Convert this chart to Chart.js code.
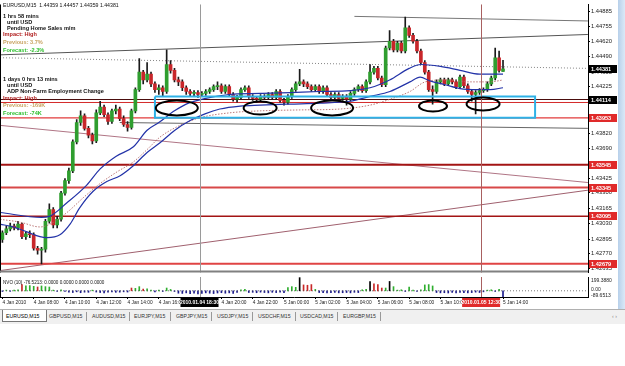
<!DOCTYPE html>
<html><head><meta charset="utf-8">
<script src="https://cdn.jsdelivr.net/npm/chart.js@4.4.1/dist/chart.umd.min.js"></script>
<style>
html,body{margin:0;padding:0;background:#fff;width:625px;height:366px;overflow:hidden;font-family:"Liberation Sans",Arial,sans-serif;}
#main{position:absolute;left:0;top:0;}
#ind{position:absolute;left:0;top:276px;}
.t{position:absolute;white-space:nowrap;font-size:5.6px;line-height:6px;font-weight:bold;color:#111;}
.n{font-weight:normal;font-size:5.2px;}
#strip{position:absolute;left:618px;top:0;width:7px;height:310px;background:linear-gradient(to right,#b7d0ea,#dbe9f7);}
#tabs{position:absolute;left:0;top:309px;width:625px;height:14px;background:#f0f0f0;border-top:1px solid #b0b0b0;font-size:5.2px;color:#333;}
.tab{position:absolute;top:3px;white-space:nowrap;}
.sep{position:absolute;top:2px;width:1px;height:9px;background:#999;}
#seltab{position:absolute;left:2px;top:0px;width:43px;height:11px;background:#fff;border:1px solid #777;border-top:none;}
</style></head>
<body>
<canvas id="main" width="618" height="277"></canvas>
<canvas id="ind" width="618" height="34"></canvas>
<div id="strip"></div>

<div class="t n" style="left:3px;top:2px;">EURUSD,M15&nbsp; 1.44359 1.44457 1.44359 1.44381</div>
<div class="t" style="left:3px;top:13px;">1 hrs 58 mins</div>
<div class="t" style="left:7px;top:19px;">until USD</div>
<div class="t" style="left:7px;top:25px;">Pending Home Sales m/m</div>
<div class="t" style="left:3px;top:31px;color:#b22222;">Impact: High</div>
<div class="t" style="left:3px;top:39px;color:#c9a463;">Previous: 3.7%</div>
<div class="t" style="left:3px;top:47px;color:#2fbf2f;">Forecast: -2.3%</div>
<div class="t" style="left:3px;top:76px;">1 days 0 hrs 13 mins</div>
<div class="t" style="left:7px;top:82px;">until USD</div>
<div class="t" style="left:7px;top:88px;">ADP Non-Farm Employment Change</div>
<div class="t" style="left:3px;top:95px;color:#b22222;">Impact: High</div>
<div class="t" style="left:3px;top:102px;color:#c9a463;">Previous: -169K</div>
<div class="t" style="left:3px;top:110px;color:#2fbf2f;">Forecast: -74K</div>
<div class="t n" style="left:3px;top:280px;font-size:4.6px;">NVO (10) -76.5213: 0.0000 0.0000 0.0000 0.0000</div>

<div id="tabs">
  <div id="seltab"></div>
  <div class="tab" style="left:6px;color:#000;">EURUSD,M15</div>
  <div class="tab" style="left:49px;">GBPUSD,M15</div>
  <div class="sep" style="left:86px;"></div>
  <div class="tab" style="left:92px;">AUDUSD,M15</div>
  <div class="sep" style="left:129px;"></div>
  <div class="tab" style="left:134px;">EURJPY,M15</div>
  <div class="sep" style="left:170px;"></div>
  <div class="tab" style="left:176px;">GBPJPY,M15</div>
  <div class="sep" style="left:211px;"></div>
  <div class="tab" style="left:217px;">USDJPY,M15</div>
  <div class="sep" style="left:252px;"></div>
  <div class="tab" style="left:258px;">USDCHF,M15</div>
  <div class="sep" style="left:295px;"></div>
  <div class="tab" style="left:300px;">USDCAD,M15</div>
  <div class="sep" style="left:337px;"></div>
  <div class="tab" style="left:343px;">EURGBP,M15</div>
  <div class="sep" style="left:380px;"></div>
  <div class="tab" style="left:612px;color:#888;">&#8249; &#8250;</div>
</div>

<script>
// ---------- DATA ----------
const TIME_TICK_BARS = [0,8,16,24,32,40,48,56,64,72,80,88,96,104,112,120,128];
const TIME_TICK_LABELS = ["4 Jan 2010","4 Jan 08:00","4 Jan 10:00","4 Jan 12:00","4 Jan 14:00","4 Jan 16:00","4 Jan 18:00","4 Jan 20:00","4 Jan 22:00","5 Jan 00:00","5 Jan 02:00","5 Jan 04:00","5 Jan 06:00","5 Jan 08:00","5 Jan 10:00","5 Jan 12:00","5 Jan 14:00"];
const PRICE_TICKS = [1.44885,1.44755,1.44620,1.44490,1.44355,1.44225,1.44090,1.43960,1.43820,1.43690,1.43555,1.43425,1.43300,1.43165,1.43030,1.42895,1.42770,1.42635];

const OPEN = [1.42891,1.42950,1.42984,1.43009,1.42992,1.43026,1.42916,1.42941,1.42933,1.42815,
1.42798,1.42806,1.43051,1.43153,1.43018,1.43068,1.43296,1.43406,1.43491,1.43744,
1.43913,1.43972,1.43862,1.43803,1.43753,1.43998,1.44048,1.43981,1.43922,1.44015,
1.44031,1.43947,1.43896,1.43871,1.44015,1.44200,1.44353,1.44285,1.44336,1.44251,
1.44200,1.44217,1.44184,1.44420,1.44369,1.44285,1.44268,1.44217,1.44184,1.44167,
1.44175,1.44158,1.44167,1.44184,1.44200,1.44226,1.44234,1.44184,1.44226,1.44158,
1.44116,1.44133,1.44200,1.44217,1.44141,1.44124,1.44116,1.44141,1.44133,1.44158,
1.44133,1.44184,1.44107,1.44090,1.44141,1.44200,1.44251,1.44268,1.44251,1.44226,
1.44200,1.44226,1.44184,1.44217,1.44158,1.44133,1.44158,1.44124,1.44141,1.44116,
1.44167,1.44200,1.44226,1.44192,1.44268,1.44353,1.44386,1.44302,1.44243,1.44564,
1.44623,1.44547,1.44606,1.44538,1.44741,1.44674,1.44623,1.44538,1.44437,1.44353,
1.44200,1.44184,1.44268,1.44285,1.44251,1.44285,1.44268,1.44226,1.44310,1.44234,
1.44184,1.44158,1.44175,1.44192,1.44200,1.44251,1.44302,1.44479,1.44359];
const HIGH = [1.42967,1.43009,1.43034,1.43026,1.43051,1.43034,1.42958,1.42967,1.42950,1.42832,
1.42823,1.43068,1.43203,1.43170,1.43093,1.43313,1.43423,1.43516,1.43761,1.43938,
1.44015,1.43989,1.43879,1.43820,1.44023,1.44099,1.44065,1.43998,1.44031,1.44065,
1.44048,1.43972,1.43922,1.44031,1.44217,1.44471,1.44369,1.44437,1.44353,1.44268,
1.44243,1.44234,1.44547,1.44454,1.44386,1.44310,1.44285,1.44234,1.44200,1.44192,
1.44192,1.44184,1.44200,1.44217,1.44243,1.44268,1.44251,1.44243,1.44243,1.44175,
1.44150,1.44217,1.44234,1.44234,1.44158,1.44141,1.44158,1.44158,1.44175,1.44175,
1.44200,1.44200,1.44124,1.44158,1.44217,1.44268,1.44378,1.44285,1.44268,1.44243,
1.44243,1.44243,1.44234,1.44234,1.44175,1.44175,1.44175,1.44158,1.44158,1.44184,
1.44217,1.44243,1.44243,1.44285,1.44420,1.44403,1.44403,1.44319,1.44581,1.44716,
1.44640,1.44623,1.44623,1.44834,1.44758,1.44691,1.44640,1.44555,1.44454,1.44369,
1.44234,1.44285,1.44302,1.44302,1.44302,1.44302,1.44285,1.44327,1.44327,1.44251,
1.44200,1.44192,1.44209,1.44217,1.44268,1.44319,1.44564,1.44538,1.44457];
const LOW = [1.42865,1.42933,1.42967,1.42975,1.42975,1.42899,1.42891,1.42908,1.42798,1.42764,
1.42679,1.42781,1.43034,1.42992,1.42992,1.43051,1.43279,1.43381,1.43474,1.43727,
1.43888,1.43846,1.43778,1.43727,1.43736,1.43981,1.43964,1.43896,1.43905,1.43989,
1.43930,1.43879,1.43837,1.43854,1.43998,1.44184,1.44251,1.44268,1.44226,1.44175,
1.44158,1.44141,1.44167,1.44344,1.44268,1.44234,1.44192,1.44158,1.44141,1.44141,
1.44133,1.44141,1.44150,1.44167,1.44184,1.44200,1.44167,1.44167,1.44141,1.44099,
1.44090,1.44116,1.44184,1.44124,1.44107,1.44090,1.44099,1.44116,1.44116,1.44116,
1.44116,1.44090,1.44065,1.44074,1.44124,1.44184,1.44234,1.44226,1.44209,1.44184,
1.44184,1.44167,1.44167,1.44141,1.44107,1.44116,1.44099,1.44107,1.44065,1.44099,
1.44150,1.44184,1.44175,1.44175,1.44251,1.44336,1.44285,1.44226,1.44226,1.44547,
1.44530,1.44530,1.44522,1.44522,1.44657,1.44606,1.44522,1.44420,1.44336,1.44184,
1.44074,1.44167,1.44251,1.44234,1.44234,1.44251,1.44209,1.44209,1.44217,1.44167,
1.44099,1.43989,1.44158,1.44175,1.44184,1.44234,1.44285,1.44353,1.44359];
const CLOSE = [1.42950,1.42984,1.43009,1.42992,1.43026,1.42916,1.42941,1.42933,1.42815,1.42798,
1.42806,1.43051,1.43153,1.43018,1.43068,1.43296,1.43406,1.43491,1.43744,1.43913,
1.43972,1.43862,1.43803,1.43753,1.43998,1.44048,1.43981,1.43922,1.44015,1.44031,
1.43947,1.43896,1.43871,1.44015,1.44200,1.44353,1.44285,1.44336,1.44251,1.44200,
1.44217,1.44184,1.44420,1.44369,1.44285,1.44268,1.44217,1.44184,1.44167,1.44175,
1.44158,1.44167,1.44184,1.44200,1.44226,1.44234,1.44184,1.44226,1.44158,1.44116,
1.44133,1.44200,1.44217,1.44141,1.44124,1.44116,1.44141,1.44133,1.44158,1.44133,
1.44184,1.44107,1.44090,1.44141,1.44200,1.44251,1.44268,1.44251,1.44226,1.44200,
1.44226,1.44184,1.44217,1.44158,1.44133,1.44158,1.44124,1.44141,1.44116,1.44167,
1.44200,1.44226,1.44192,1.44268,1.44353,1.44386,1.44302,1.44243,1.44564,1.44623,
1.44547,1.44606,1.44538,1.44741,1.44674,1.44623,1.44538,1.44437,1.44353,1.44200,
1.44184,1.44268,1.44285,1.44251,1.44285,1.44268,1.44226,1.44310,1.44234,1.44184,
1.44158,1.44175,1.44192,1.44200,1.44251,1.44302,1.44479,1.44369,1.44381];

// moving-average style lines: [bar, price]
const MA_UPPER = [[-0.6,1.43127],[10,1.43085],[12,1.43093],[16.5,1.43212],[21.5,1.43364],[25,1.43508],[29,1.43617],[33.5,1.43702],[37,1.43846],[40,1.43913],[44,1.44015],[47,1.44074],[52,1.44124],[58,1.44158],[66,1.44167],[73.5,1.44175],[81,1.44184],[89,1.44192],[94,1.44217],[99,1.44285],[104,1.44386],[107,1.44420],[112,1.44403],[117,1.44369],[122,1.44336],[128,1.44336]];
const MA_LOWER = [[-0.6,1.43026],[2.7,1.43001],[6.3,1.42958],[9.6,1.42916],[11.4,1.42908],[14.7,1.42933],[17.3,1.43026],[19.8,1.43170],[23.2,1.43313],[26.7,1.43398],[30.1,1.43448],[33.4,1.43533],[37,1.43651],[40.3,1.43736],[44.1,1.43846],[48,1.43930],[51.8,1.43989],[55.6,1.44031],[60.8,1.44057],[65.9,1.44065],[73.5,1.44074],[81.2,1.44082],[88.9,1.44099],[94,1.44141],[99.1,1.44184],[104.2,1.44268],[106.8,1.44310],[109.3,1.44277],[113.2,1.44243],[117,1.44209],[121.4,1.44200],[124.7,1.44200],[128,1.44217]];
const MA_MID = [[-0.6,1.43068],[4.5,1.43043],[9.6,1.43001],[12.2,1.43026],[16.5,1.43127],[20.6,1.43254],[25,1.43381],[29.3,1.43482],[33.4,1.43567],[37,1.43677],[40.3,1.43786],[45.4,1.43888],[50.5,1.43955],[58.2,1.43998],[65.9,1.44015],[76.1,1.44023],[86.3,1.44031],[94,1.44065],[99.1,1.44116],[104.2,1.44184],[108.1,1.44268],[113.2,1.44285],[119.6,1.44268],[124.7,1.44268],[128,1.44285]];

// horizontal levels (price) and their label on the price axis
const LEVELS = [1.44114, 1.44088, 1.43953, 1.43545, 1.43345, 1.43095, 1.42679];
const LEVEL_TAGS = ["1.44114", "", "1.43953", "1.43545", "1.43345", "1.43095", "1.42679"];
const CURRENT_PRICE = 1.44381;
// trend lines: [bar1, price1, bar2, price2]
const TRENDLINES = [[-0.6,1.43888,149.7,1.43389],[-0.6,1.42620,149.7,1.43322],[-0.6,1.44504,149.7,1.44682],[90,1.44840,149.7,1.44800],[30,1.43913,149.7,1.43862]];
const DOTTED_TREND = [-0.6,1.44479,149.7,1.44386];
// highlighted zone
const ZONE = {bar1:39.0, bar2:136.2, top:1.44141, bottom:1.43955};
const ELLIPSE_BARS = [44.6, 65.9, 84.3, 110.1, 122.9];
const ELLIPSE_PRICES = [1.44040, 1.44040, 1.44040, 1.44057, 1.44074];
// vertical marker lines
const VLINE_BARS = [50.4, 122.4];
const VLINE_TAGS = ["2010.01.04 18:30", "2010.01.05 12:30"];

// NVO histogram
const NVO = [-10,10,-8,12,15,90,70,75,65,55,
70,60,55,10,-10,15,-8,-20,-25,-15,
-28,-20,-22,10,-18,-25,-30,-20,-15,-22,
-20,-15,-18,40,35,60,25,30,10,-15,
12,-10,40,20,-10,-35,-38,-30,-40,-35,
-45,-38,-30,-35,-40,-32,-28,-35,-30,-38,
-25,15,20,-25,-22,-28,-20,-25,-30,-22,
-26,-20,-28,45,60,50,190,85,80,90,
20,-25,-28,-30,-26,-25,-30,-28,-25,-30,
-22,-26,15,20,135,100,90,40,40,135,
60,10,15,-10,55,10,-10,15,85,90,
70,-25,-30,-28,-32,-25,-30,-22,-28,-30,
-26,-20,-25,-15,10,15,-10,20,-89];
const NVO_KIND = ["b","g","b","g","g","r","g","g","g","r",
"g","g","g","g","b","g","b","b","b","b",
"b","b","b","g","b","b","b","b","b","b",
"b","b","b","r","g","g","r","g","g","b",
"g","b","g","g","b","b","b","b","b","b",
"b","b","b","b","b","b","b","b","b","b",
"b","g","g","b","b","b","b","b","b","b",
"b","b","b","g","g","g","k","r","r","r",
"g","b","b","b","b","b","b","b","b","b",
"b","b","g","g","k","r","r","r","g","k",
"g","g","g","b","g","g","b","g","g","g",
"g","b","b","b","b","b","b","b","b","b",
"b","b","b","b","g","g","b","g","b"];
const NVO_MAX = 199.388, NVO_MIN = -89.6513;

// ---------- CHART ----------
const X_MIN = -0.614, X_MAX = 149.73;
const Y_MIN = 1.42603, Y_MAX = 1.44944;
const FONT = "'Liberation Sans', Arial, sans-serif";
const UP = '#2f9e2f', DOWN = '#c8262a';

const seg = (b1,p1,b2,p2) => [{x:b1,y:p1},{x:b2,y:p2}];
const toPts = arr => arr.map(([b,p]) => ({x:b, y:p}));

const datasets = [];
datasets.push({type:'bar', label:'wick', data: OPEN.map((o,i)=>({x:i, y:[LOW[i], HIGH[i]]})),
  backgroundColor:'#1a1a1a', barThickness:1, grouped:false, borderSkipped:false, order:6});
datasets.push({type:'bar', label:'body', data: OPEN.map((o,i)=>({x:i, y:[o, CLOSE[i]]})),
  backgroundColor: c => CLOSE[c.dataIndex] >= OPEN[c.dataIndex] ? UP : DOWN,
  barThickness:3, grouped:false, borderSkipped:false, minBarLength:1, order:5});
datasets.push({type:'line', data: toPts(MA_UPPER), borderColor:'#2333a8', borderWidth:1.2, pointRadius:0, cubicInterpolationMode:'monotone', order:2});
datasets.push({type:'line', data: toPts(MA_LOWER), borderColor:'#2333a8', borderWidth:1.2, pointRadius:0, cubicInterpolationMode:'monotone', order:2});
datasets.push({type:'line', data: toPts(MA_MID), borderColor:'#b46a6a', borderWidth:0.9, borderDash:[1.5,1.5], pointRadius:0, cubicInterpolationMode:'monotone', order:2});
const LEVEL_COLORS = ['#4a0d0d','#d42a2a','#e23b3b','#a31414','#d84848','#a31414','#e04444'];
const LEVEL_WIDTHS = [1,1,1.2,2,2,1.5,2];
LEVELS.forEach((v,k)=>datasets.push({type:'line', data: seg(X_MIN,v,X_MAX,v), borderColor: LEVEL_COLORS[k], borderWidth: LEVEL_WIDTHS[k], pointRadius:0, order:8}));
datasets.push({type:'line', data: seg(...DOTTED_TREND), borderColor:'#666', borderWidth:0.8, borderDash:[1,2], pointRadius:0, order:8});
const TL_COLORS = ['#b07585','#a0606e','#555','#777','#666'];
TRENDLINES.forEach((t,k)=>datasets.push({type:'line', data: seg(t[0],t[1],t[2],t[3]), borderColor: TL_COLORS[k], borderWidth:1, pointRadius:0, order:9}));
datasets.push({type:'line', data:[{x:ZONE.bar1,y:ZONE.top},{x:ZONE.bar2,y:ZONE.top},{x:ZONE.bar2,y:ZONE.bottom},{x:ZONE.bar1,y:ZONE.bottom},{x:ZONE.bar1,y:ZONE.top}],
  borderColor:'#2eb1e6', borderWidth:2, pointRadius:0, order:1});

const ELL_RX = [21,16.5,21,14,16.5], ELL_RY = [7.5,6.5,7.5,5.5,6.5];

const mainOverlay = {
  id:'mainOverlay',
  afterDatasetsDraw(chart){
    const {ctx, scales:{x,y}, chartArea:a} = chart;
    ctx.save();
    VLINE_BARS.forEach((b,k)=>{
      const px = Math.round(x.getPixelForValue(b))+0.5;
      ctx.strokeStyle = k===0 ? '#9a9a9a' : '#a86060'; ctx.lineWidth=1;
      ctx.beginPath(); ctx.moveTo(px,a.top); ctx.lineTo(px,a.bottom); ctx.stroke();
    });
    ctx.strokeStyle='#000'; ctx.lineWidth=2;
    ELLIPSE_BARS.forEach((b,k)=>{
      ctx.beginPath();
      ctx.ellipse(x.getPixelForValue(b), y.getPixelForValue(ELLIPSE_PRICES[k]), ELL_RX[k], ELL_RY[k], 0, 0, Math.PI*2);
      ctx.stroke();
    });
    ctx.strokeStyle='#000'; ctx.lineWidth=1;
    ctx.beginPath(); ctx.moveTo(0.5,a.top); ctx.lineTo(0.5,a.bottom); ctx.stroke();
    ctx.strokeStyle='#808080'; ctx.lineWidth=2;
    ctx.beginPath(); ctx.moveTo(0,a.bottom-1); ctx.lineTo(a.right,a.bottom-1); ctx.stroke();
    ctx.restore();
  },
  afterDraw(chart){
    const {ctx, scales:{y}, chartArea:a} = chart;
    ctx.save();
    ctx.font = "bold 5.6px " + FONT; ctx.textBaseline='middle'; ctx.textAlign='left';
    const tag = (v, txt, bg) => {
      const py = Math.round(y.getPixelForValue(v));
      ctx.fillStyle = bg; ctx.fillRect(a.right+1, py-4, 28, 8);
      ctx.fillStyle = '#fff'; ctx.fillText(txt, a.right+3, py+0.5);
    };
    LEVELS.forEach((v,k)=>{ if (LEVEL_TAGS[k]) tag(v, LEVEL_TAGS[k], k===0 ? '#000' : '#e02a2a'); });
    tag(CURRENT_PRICE, CURRENT_PRICE.toFixed(5), '#000');
    ctx.restore();
  }
};

new Chart(document.getElementById('main'), {
  type:'bar',
  data:{datasets},
  options:{
    responsive:false, animation:false, devicePixelRatio:1,
    layout:{padding:0},
    plugins:{legend:{display:false}, tooltip:{enabled:false}},
    scales:{
      x:{type:'linear', min:X_MIN, max:X_MAX, display:false, offset:false, grid:{offset:false}},
      y:{type:'linear', position:'right', min:Y_MIN, max:Y_MAX,
         afterFit: s => { s.width = 30; },
         afterBuildTicks: s => { s.ticks = PRICE_TICKS.map(v=>({value:v})); },
         ticks:{autoSkip:false, callback:(v)=>v.toFixed(5), font:{size:5.8, family:FONT}, color:'#222', padding:1, crossAlign:'near'},
         grid:{drawOnChartArea:false, tickLength:2, color:'#000'},
         border:{display:true, color:'#000'}}
    }
  },
  plugins:[mainOverlay]
});

const NVO_COL = {g:'#2fae2f', r:'#c82828', k:'#000', b:'#1c1c8c'};
const indOverlay = {
  id:'indOverlay',
  afterDatasetsDraw(chart){
    const {ctx, scales:{x}, chartArea:a} = chart;
    ctx.save();
    VLINE_BARS.forEach((b,k)=>{
      const px = Math.round(x.getPixelForValue(b))+0.5;
      ctx.strokeStyle = k===0 ? '#9a9a9a' : '#a86060'; ctx.lineWidth=1;
      ctx.beginPath(); ctx.moveTo(px,a.top); ctx.lineTo(px,a.bottom); ctx.stroke();
    });
    ctx.strokeStyle='#000'; ctx.lineWidth=1;
    ctx.beginPath(); ctx.moveTo(0.5,a.top); ctx.lineTo(0.5,a.bottom); ctx.stroke();
    ctx.restore();
  },
  afterDraw(chart){
    const {ctx, scales:{x,y}, chartArea:a} = chart;
    ctx.save();
    ctx.font = "5px " + FONT; ctx.textBaseline='middle'; ctx.fillStyle='#222'; ctx.textAlign='left';
    ctx.fillText(NVO_MAX.toFixed(4), a.right+3, a.top+4);
    ctx.fillText('0.00', a.right+3, y.getPixelForValue(0)-1);
    ctx.fillText(NVO_MIN.toFixed(4), a.right+3, a.bottom-1);
    ctx.font = "bold 5px " + FONT;
    VLINE_BARS.forEach((b,k)=>{
      const px = x.getPixelForValue(b);
      ctx.fillStyle = k===0 ? '#000' : '#e02a2a';
      ctx.fillRect(px-19, a.bottom+1, 38, 9);
      ctx.fillStyle = '#fff'; ctx.textAlign='center';
      ctx.fillText(VLINE_TAGS[k], px, a.bottom+5.5);
    });
    ctx.restore();
  }
};
new Chart(document.getElementById('ind'), {
  type:'bar',
  data:{datasets:[
    {type:'bar', data: NVO.map((v,i)=>({x:i, y:v})), backgroundColor: c => NVO_COL[NVO_KIND[c.dataIndex]], barThickness:1, grouped:false, order:2},
    {type:'line', data: seg(X_MIN,0,X_MAX,0), borderColor:'#555', borderWidth:0.8, borderDash:[1,2], pointRadius:0, order:1}
  ]},
  options:{
    responsive:false, animation:false, devicePixelRatio:1,
    layout:{padding:{top:1, left:0, right:0, bottom:0}},
    plugins:{legend:{display:false}, tooltip:{enabled:false}},
    scales:{
      x:{type:'linear', min:X_MIN, max:X_MAX, position:'bottom', offset:false,
         afterFit: s => { s.height = 13; },
         afterBuildTicks: s => { s.ticks = TIME_TICK_BARS.map(v=>({value:v})); },
         ticks:{autoSkip:false, maxRotation:0, align:'start', callback:(v,i)=>TIME_TICK_LABELS[i], font:{size:4.8, family:FONT}, color:'#222', padding:1},
         grid:{drawOnChartArea:false, tickLength:2, color:'#000', offset:false},
         border:{display:true, color:'#000'}},
      y:{type:'linear', position:'right', min:NVO_MIN, max:NVO_MAX,
         afterFit: s => { s.width = 30; },
         ticks:{display:false}, grid:{display:false},
         border:{display:true, color:'#000'}}
    }
  },
  plugins:[indOverlay]
});
</script>
</body></html>
